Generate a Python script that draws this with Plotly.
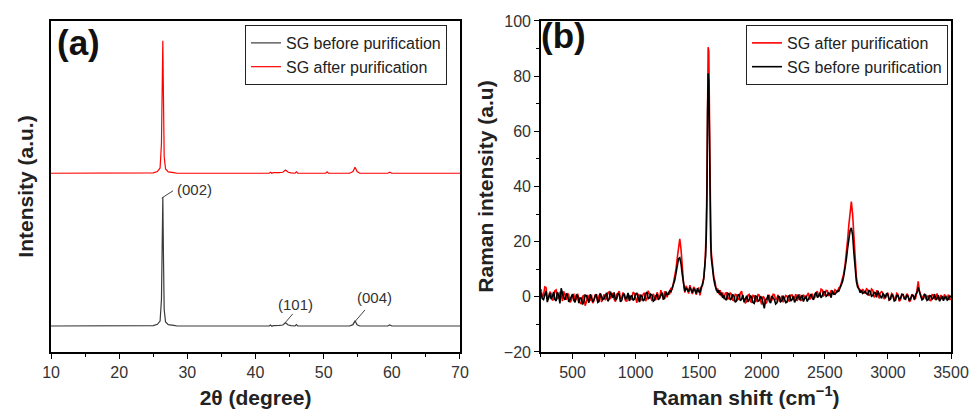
import plotly.graph_objects as go

# ---------------- (a) XRD data ----------------
xrd_2theta = [10, 24, 25, 25.6, 26.0, 26.2, 26.3, 26.4, 26.5, 26.6,
              26.8, 27.2, 28, 28.5, 42.0, 42.2, 42.4, 42.6, 43.5, 44.0,
              44.4, 44.8, 45.2, 45.8, 46.0, 46.2, 50.3, 50.5, 50.7, 53.8,
              54.3, 54.6, 54.9, 55.3, 59.4, 59.7, 60.0, 70]
xrd_before = [0, 0, 0.1, 0.5, 1.5, 8, 25, 39, 20, 5,
              1.2, 0.4, 0.2, 0, 0, 0.3, -0.1, 0.1, 0.2, 0.3,
              1.0, 0.3, 0.1, 0, 0.4, 0, 0, 0.1, 0, 0,
              0.4, 1.6, 0.4, 0, 0, 0.3, 0, 0]
xrd_after = [0, 0, 0.1, 0.5, 1.6, 9, 28, 40, 22, 5,
             1.3, 0.4, 0.2, 0, 0, 0.3, 0, 0.2, 0.2, 0.3,
             1.0, 0.3, 0.1, 0, 0.4, 0, 0, 0.4, 0, 0,
             0.5, 1.8, 0.5, 0, 0, 0.3, 0, 0]
xrd_offset_before = 7.85
xrd_offset_after = 54.0

# ---------------- (b) Raman data ----------------
# sampling grid (cm^-1)
raman_shift = (list(range(250, 1251, 10))                      # 101 pts
               + list(range(1260, 1461, 10))                   # 21 pts (D band)
               + [1470, 1480, 1490, 1500, 1510, 1520, 1530,
                  1540, 1550, 1555, 1560, 1565, 1570, 1575, 1580, 1585, 1590, 1595, 1600,
                  1610, 1620, 1630, 1640, 1650, 1660, 1670, 1680, 1690]   # 28 pts (G band)
               + list(range(1700, 2581, 10))                   # 89 pts
               + list(range(2590, 2801, 10))                   # 22 pts (2D band)
               + list(range(2820, 3501, 10)))                  # 69 pts

raman_before = [
    # 250-1250
    1.5, -0.6, -1.0, 0.9, 2.2, -1.9, 0.3, 1.3, -0.8, 0.1,
    1.8, -0.9, -1.5, 1.7, 0.6, -2.4, 3.1, 0.8, -0.4, -1.1,
    1.2, 0.5, -1.8, -0.9, 0.2, 1.0, -1.2, -2.0, 0.8, 0.3,
    -2.3, -0.4, -0.5, -2.8, -1.6, 0.6, 0.4, -1.2, -2.1, 0.9,
    -0.3, -1.8, -1.0, 0.4, 0.9, -2.0, -1.7, 1.2, 0.1, -1.0,
    -0.6, 0.7, 1.4, -1.6, -0.9, 1.9, 0.5, -0.4, 1.6, -1.2,
    -0.7, 1.3, 0.8, -1.8, -1.3, 0.6, 1.1, -0.9, -0.2, 1.4,
    -1.5, 0.2, 0.4, -1.3, -0.8, 1.1, 1.3, -0.6, -1.9, 0.8,
    0.2, -1.5, -0.9, 1.2, 1.7, -0.7, -0.4, 1.0, 0.6, -1.6,
    -1.2, 0.3, 0.9, -1.1, -0.5, 0.6, 1.5, -0.8, -0.6, 1.9,
    0.8,
    # 1260-1460
    1.0, 2.2, 1.8, 3.0, 4.2, 6.0, 8.5, 11.5, 13.8, 14.2,
    12.0, 8.0, 4.5, 2.0, 3.2, 2.5, 1.8, 3.4, 2.2, 1.5,
    3.0,
    # 1470-1690
    2.4, 1.2, 3.1, 2.0, 1.5, 3.6, 4.2,
    6.5, 11.0, 15.0, 22.0, 35.0, 66.0, 81.0, 78.0, 55.0, 32.0, 20.0, 14.0,
    9.0, 6.2, 4.0, 3.0, 1.5, 2.4, 0.6, 1.5, -0.4,
    # 1700-2580
    0.5, -0.8, -1.2, 1.3, 1.0, -1.1, -0.6, 0.9, 0.2, -2.0,
    -1.5, 0.6, 0.8, -1.4, -0.9, 0.7, -2.0, -0.6, 0.4, -1.8,
    -1.1, 0.5, -0.3, -2.1, -2.4, 0.3, 0.1, -1.6, -1.3, 0.2,
    -0.5, -2.2, -4.2, -1.0, -0.8, 0.6, -1.6, -2.3, 0.3, -0.4,
    -1.0, -2.6, -2.2, 0.1, 0.0, -1.8, -1.4, 0.4, -0.6, -2.1,
    -1.9, 0.2, 0.5, -1.5, -1.0, 0.3, -2.0, -1.2, -0.3, 0.8,
    -1.2, -0.2, 0.6, -1.7, -0.8, 0.4, -1.7, -0.6, 0.2, 1.0,
    -0.5, -1.1, 0.9, 1.6, -0.2, 0.3, 1.5, -0.4, 0.4, 1.9,
    1.8, 0.2, 0.6, 1.4, 1.2, -0.3, 2.3, 1.0, 0.9,
    # 2590-2800
    1.4, 2.2, 2.0, 3.0, 4.2, 5.5, 7.5, 10.0, 13.5, 17.5,
    21.5, 24.0, 25.0, 22.5, 16.0, 9.5, 5.5, 3.5, 2.8, 1.5,
    2.4, 1.2,
    # 2820-3500
    2.0, 1.1, 0.8, 2.4, 1.9, 0.2, 0.5, 1.6, 1.4, -0.2,
    2.2, 0.9, 0.3, -0.5, 1.1, 0.7, -0.4, 1.3, 0.6, -1.1,
    -0.8, 0.9, 0.2, -1.5, -1.2, 0.5, 0.4, -0.9, -0.5, 1.0,
    0.9, -0.6, -0.9, 0.7, 0.0, -1.4, -0.6, 0.6, 0.5, -1.0,
    0.8, 1.5, 3.4, 1.2, 0.2, -1.1, -0.7, 0.8, 0.6, -1.3,
    -1.0, 0.4, 0.3, -0.9, -0.4, 1.0, -1.2, -0.5, 0.5, -1.6,
    -0.6, 0.3, -1.4, -0.2, 0.1, -1.2, -0.8, 0.4, -0.2,
]
raman_after = [
    # 250-1250
    2.8, 0.2, 0.5, 3.6, 3.4, -0.4, -0.6, 1.9, 1.2, -1.3,
    -0.9, 2.2, 2.5, -0.8, -0.2, 1.5, 1.1, -1.6, 2.0, 0.4,
    -1.1, 1.3, 0.7, -2.0, -1.4, 0.6, 0.9, -1.7, -0.8, 1.1,
    -0.3, -2.2, -2.6, 0.2, 0.5, -3.2, -1.8, 0.7, -0.6, -1.5,
    0.8, -2.3, -1.4, 0.9, -0.2, -1.6, 0.4, 1.3, -1.9, -0.3,
    0.9, -1.2, -0.5, 1.5, 1.8, -0.8, 0.2, 1.4, -0.9, -1.7,
    0.9, 1.2, 2.1, -0.6, -0.4, 1.6, 0.3, -1.4, -1.6, 0.8,
    0.5, -1.0, -0.7, 1.7, 1.2, -0.5, -2.2, 0.9, 0.6, -1.3,
    -0.9, 1.0, 1.4, -1.6, -0.3, 2.2, 0.8, -0.8, -1.5, 1.1,
    0.2, -1.2, 1.6, 0.5, -0.7, 2.4, 0.9, -0.9, 2.0, 1.2,
    -0.2,
    # 1260-1460
    1.8, 0.9, 3.2, 2.6, 5.0, 7.2, 10.0, 14.0, 17.5, 21.0,
    17.2, 9.5, 5.0, 1.5, 4.0, 3.0, 1.2, 4.2, 2.8, 1.0,
    3.6,
    # 1470-1690
    3.0, 0.8, 2.6, 3.4, 0.5, 2.8, 5.0,
    7.0, 12.0, 16.5, 24.0, 40.0, 70.0, 90.5, 89.0, 62.0, 45.0, 26.0, 16.0,
    10.0, 7.0, 5.5, 2.2, 3.0, 1.0, 2.4, 0.2, 1.6,
    # 1700-2580
    -0.8, 1.2, 1.6, -0.9, -0.3, 1.4, 1.0, -1.2, -1.4, 0.9,
    0.7, -1.0, -0.6, 1.3, 2.1, -0.5, -0.7, -2.2, -1.8, 0.6,
    0.9, -1.6, -2.1, 0.5, 0.3, -1.9, -1.2, 0.8, 0.6, -1.5,
    -2.8, 0.2, -0.4, -2.5, -1.9, 0.6, 0.5, -1.7, -1.3, 0.9,
    0.8, -1.1, -0.5, 0.7, -1.8, -0.9, 0.4, -2.0, -0.9, 0.5,
    0.2, -1.4, -1.6, 0.6, 0.7, -0.8, -0.4, 1.0, -1.5, -0.6,
    0.9, -1.3, -1.1, 0.8, 0.3, -0.6, 0.6, 1.4, -1.0, 0.2,
    1.1, -0.5, -0.3, 1.3, 2.0, 0.1, 0.5, 2.8, 2.5, 0.4,
    0.8, 2.3, 2.2, 0.3, 1.0, 2.4, 1.4, 0.7, 2.6,
    # 2590-2800
    2.2, 1.8, 3.2, 3.5, 5.0, 6.5, 8.5, 11.5, 15.5, 20.5,
    26.0, 30.5, 34.5, 30.0, 21.0, 12.0, 7.0, 4.5, 3.0, 2.6,
    1.4, 2.8,
    # 2820-3500
    1.2, 2.9, 2.6, 0.4, 0.9, 2.8, 2.4, -0.2, 0.4, 2.1,
    1.8, -0.6, 1.5, 1.9, 1.4, -0.8, -0.3, 1.0, 1.4, -1.2,
    -0.9, 1.2, 0.8, -0.9, -0.4, 1.3, 0.9, -1.6, -1.1, 0.8,
    0.6, -0.7, -0.2, 1.1, 0.5, -1.8, -1.3, 0.9, 0.4, -0.9,
    -0.5, 2.3, 5.6, 2.0, 0.9, -0.5, 0.2, 1.1, -0.9, -0.3,
    0.5, -1.2, -1.4, 0.8, 0.6, -0.9, -0.3, 1.2, -1.1, -0.6,
    0.7, -0.8, -0.2, 0.9, -0.9, -0.4, 0.8, -1.1, -0.6,
]

# peak labels for XRD: (label, leader start x, start y, end x, end y, text x, text y)
peak_labels = [
    ("(002)", 26.24, 46.5, 27.9, 48.7, 31.1, 49.0),
    ("(101)", 44.33, 8.8, 45.46, 11.5, 45.8, 14.3),
    ("(004)", 54.3, 8.5, 56.06, 12.7, 57.4, 16.5),
]

FONT = "Liberation Sans, Arial, sans-serif"
TICKCOL = "#333333"
BLACK_A = "#3a3a3a"

fig = go.Figure()
fig.add_trace(go.Scatter(
    x=xrd_2theta, y=[v + xrd_offset_before for v in xrd_before], mode="lines",
    line=dict(color=BLACK_A, width=1.2), name="SG before purification",
    xaxis="x", yaxis="y", legend="legend"))
fig.add_trace(go.Scatter(
    x=xrd_2theta, y=[v + xrd_offset_after for v in xrd_after], mode="lines",
    line=dict(color="#ff0000", width=1.2), name="SG after purification",
    xaxis="x", yaxis="y", legend="legend"))
fig.add_trace(go.Scatter(
    x=raman_shift, y=raman_after, mode="lines",
    line=dict(color="#ff0000", width=1.6), name="SG after purification",
    xaxis="x2", yaxis="y2", legend="legend2"))
fig.add_trace(go.Scatter(
    x=raman_shift, y=raman_before, mode="lines",
    line=dict(color="#000000", width=1.6), name="SG before purification",
    xaxis="x2", yaxis="y2", legend="legend2"))

ax_common = dict(showline=True, linecolor="black", linewidth=1.6, mirror=True,
                 showgrid=False, zeroline=False, automargin=False,
                 tickfont=dict(family=FONT, size=16, color=TICKCOL))
title_font = dict(family=FONT, size=21, color="#222222", weight="bold")
YDOM = [0.1394, 0.9487]

fig.update_layout(
    width=976, height=409, margin=dict(l=0, r=0, t=0, b=0),
    paper_bgcolor="white", plot_bgcolor="white",
    font=dict(family=FONT),
    xaxis=dict(domain=[0.0523, 0.4713], range=[10, 70], anchor="y",
               ticks="outside", ticklen=5, tickwidth=1.3, tickcolor="black",
               tick0=0, dtick=10,
               minor=dict(ticks="outside", ticklen=3, tickwidth=1, tickcolor="black", dtick=5),
               title=dict(text="2θ (degree)", font=title_font, standoff=10),
               **ax_common),
    yaxis=dict(domain=YDOM, range=[0, 100], anchor="x",
               ticks="", showticklabels=False,
               title=dict(text="Intensity (a.u.)", font=title_font, standoff=10),
               **ax_common),
    xaxis2=dict(domain=[0.5543, 0.9744], range=[250, 3500], anchor="y2",
                ticks="outside", ticklen=5, tickwidth=1.3, tickcolor="black",
                tick0=0, dtick=500,
                minor=dict(ticks="outside", ticklen=3, tickwidth=1, tickcolor="black", dtick=250),
                title=dict(text="Raman shift (cm<sup>−1</sup>)", font=title_font, standoff=10),
                **ax_common),
    yaxis2=dict(domain=YDOM, range=[-20, 100], anchor="x2",
                ticks="outside", ticklen=5, tickwidth=1.3, tickcolor="black",
                tick0=0, dtick=20,
                minor=dict(ticks="outside", ticklen=3, tickwidth=1, tickcolor="black", dtick=10),
                title=dict(text="Raman intensity (a.u)", font=title_font, standoff=4),
                **ax_common),
    legend=dict(x=0.458, y=0.9389, xanchor="right", yanchor="top",
                bordercolor="#222222", borderwidth=1, bgcolor="white",
                font=dict(family=FONT, size=16, color="#222222"),
                tracegroupgap=0),
    legend2=dict(x=0.9713, y=0.9389, xanchor="right", yanchor="top",
                 bordercolor="#222222", borderwidth=1, bgcolor="white",
                 font=dict(family=FONT, size=16, color="#222222"),
                 tracegroupgap=0),
    showlegend=True,
)

annotations = [
    dict(text="<b>(a)</b>", xref="x domain", yref="y domain", x=0.01, y=1.0,
         xanchor="left", yanchor="top", showarrow=False,
         font=dict(family=FONT, size=35, color="#111111")),
    dict(text="<b>(b)</b>", xref="x2 domain", yref="y2 domain", x=-0.005, y=1.02,
         xanchor="left", yanchor="top", showarrow=False,
         font=dict(family=FONT, size=35, color="#111111")),
]
shapes = []
for lab, x0, y0, x1, y1, tx, ty in peak_labels:
    annotations.append(dict(text=lab, x=tx, y=ty, xref="x", yref="y", showarrow=False,
                            font=dict(family=FONT, size=15, color="#333333")))
    shapes.append(dict(type="line", xref="x", yref="y", x0=x0, y0=y0, x1=x1, y1=y1,
                       line=dict(color="#444444", width=1)))
fig.update_layout(annotations=annotations, shapes=shapes)

fig.write_html("out.html")
